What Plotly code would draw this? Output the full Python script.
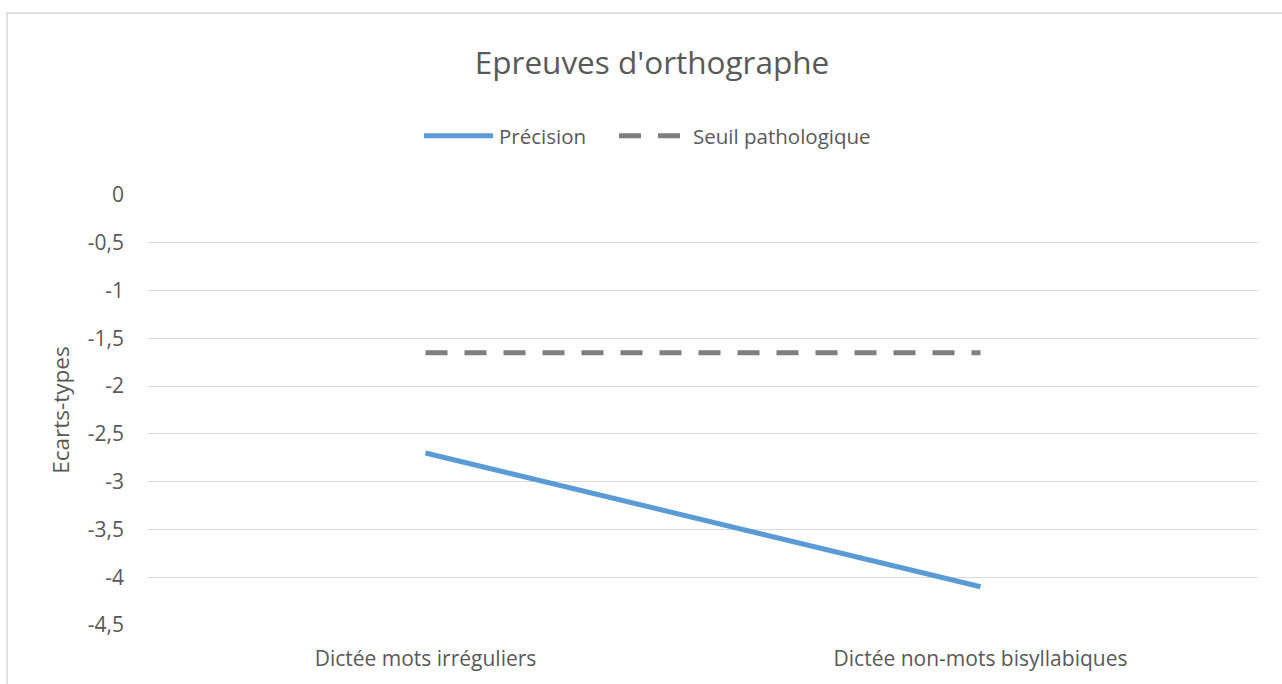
import plotly.graph_objects as go

categories = ["Dictée mots irréguliers", "Dictée non-mots bisyllabiques"]
precision = [-2.7, -4.1]
seuil = [-1.65, -1.65]
series_names = ["Précision", "Seuil pathologique"]
ytick_vals = [0, -0.5, -1, -1.5, -2, -2.5, -3, -3.5, -4, -4.5]
ytick_text = ["0", "-0,5", "-1", "-1,5", "-2", "-2,5", "-3", "-3,5", "-4", "-4,5"]

W, H = 1282, 684
L, R = 148, 1258
T, B = 195, 630
FONT = "Open Sans"
TXT = "#595959"
BLUE = "#5B9BD5"
GRAY = "#7F7F7F"
DASH = "22px,17px"

fig = go.Figure()
fig.add_trace(go.Scatter(x=categories, y=precision, mode="lines", name=series_names[0],
                         line=dict(color=BLUE, width=5), showlegend=False))
fig.add_trace(go.Scatter(x=categories, y=seuil, mode="lines", name=series_names[1],
                         line=dict(color=GRAY, width=5, dash=DASH), showlegend=False))

pw, ph = R - L, B - T


def px(x):
    return (x - L) / pw


def py(y):
    return (B - y) / ph


# chart border
fig.add_shape(type="rect", xref="paper", yref="paper",
              x0=px(7), x1=px(1300), y0=py(700), y1=py(11),
              line=dict(color="#D9D9D9", width=1.5), fillcolor="rgba(0,0,0,0)", layer="below")

# legend (Excel-style, drawn manually)
LEG_Y = 135
fig.add_shape(type="line", xref="paper", yref="paper", x0=px(424), x1=px(493),
              y0=py(LEG_Y), y1=py(LEG_Y), line=dict(color=BLUE, width=5))
fig.add_annotation(xref="paper", yref="paper", x=px(497), y=py(LEG_Y), text=series_names[0],
                   showarrow=False, xanchor="left", yanchor="middle",
                   font=dict(size=20.5, color=TXT, family=FONT))
fig.add_shape(type="line", xref="paper", yref="paper", x0=px(619), x1=px(680),
              y0=py(LEG_Y), y1=py(LEG_Y), line=dict(color=GRAY, width=5, dash=DASH))
fig.add_annotation(xref="paper", yref="paper", x=px(691), y=py(LEG_Y), text=series_names[1],
                   showarrow=False, xanchor="left", yanchor="middle",
                   font=dict(size=20.5, color=TXT, family=FONT))

fig.update_layout(
    width=W, height=H,
    margin=dict(l=L, r=W - R, t=T, b=H - B, pad=0),
    paper_bgcolor="white", plot_bgcolor="white",
    font=dict(family=FONT, color=TXT, size=21),
    title=dict(text="Epreuves d'orthographe", xref="container", yref="container",
               x=652 / W, y=1 - 63 / H, xanchor="center", yanchor="middle",
               font=dict(size=31.5, color=TXT, family=FONT)),
    showlegend=False,
)
fig.update_xaxes(type="category", range=[-0.5, 1.5], showgrid=False, showline=False,
                 zeroline=False, ticks="", ticklabelstandoff=19,
                 tickfont=dict(size=21, color=TXT, family=FONT))
fig.update_yaxes(range=[-4.5005, 0.0005], tickvals=ytick_vals, ticktext=ytick_text,
                 showgrid=True, gridcolor="#D9D9D9", gridwidth=1.3, zeroline=False,
                 showline=False, ticks="", ticklabelstandoff=23,
                 tickfont=dict(size=21, color=TXT, family=FONT),
                 title=dict(text="Ecarts-types", standoff=11, font=dict(size=22.5, color=TXT)))

fig.write_html("out.html", config={"displayModeBar": False},
               post_script="document.body.style.margin='0px';")
